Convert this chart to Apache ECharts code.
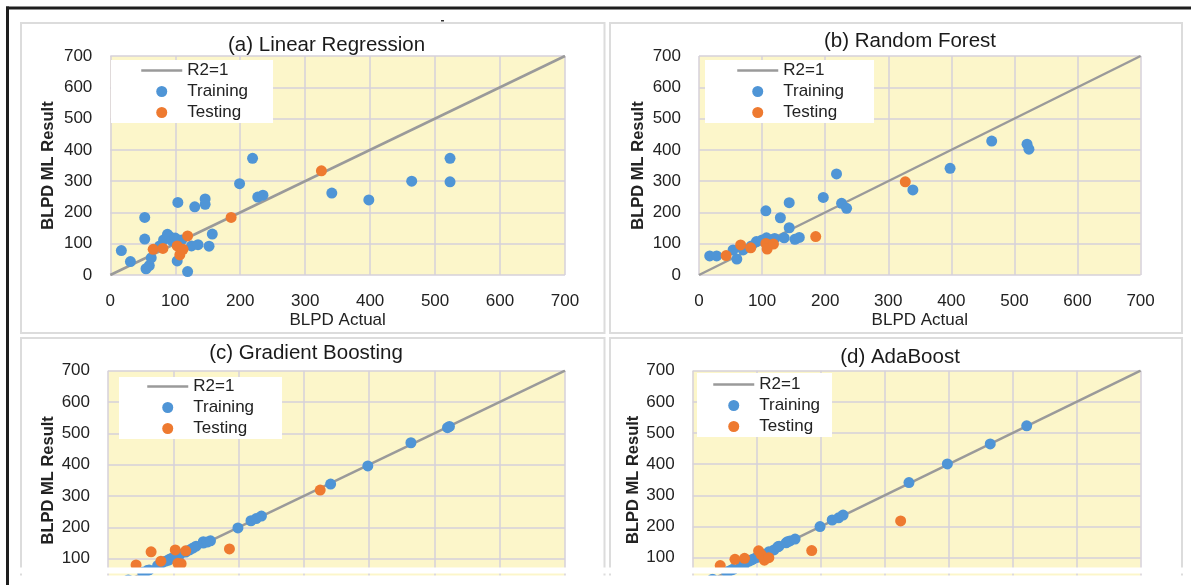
<!DOCTYPE html>
<html>
<head>
<meta charset="utf-8">
<script src="https://cdn.jsdelivr.net/npm/echarts@6/dist/echarts.min.js"></script>
<style>
  html, body { margin: 0; padding: 0; background: #fff; }
  #chart { width: 1191px; height: 585px; }
</style>
</head>
<body>
<div id="chart"></div>
<script>
// values (BLPD actual vs. ML result)
const panelTitles = ['(a) Linear Regression', '(b) Random Forest', '(c) Gradient Boosting', '(d) AdaBoost']
const r2Line = [[0, 0], [700, 700]]

const lrTraining = [[17, 78], [31, 43], [53, 184], [53, 115], [55, 20], [60, 30], [63, 55], [76, 93], [82, 112],
  [88, 130], [92, 122], [95, 110], [100, 118], [103, 45], [104, 232], [110, 112], [119, 11], [125, 93],
  [130, 218], [135, 97], [146, 243], [146, 226], [152, 92], [157, 131], [199, 292], [219, 373], [227, 249],
  [235, 255], [341, 262], [398, 240], [464, 300], [523, 373], [523, 298]]
const lrTesting = [[66, 82], [81, 85], [103, 93], [107, 64], [112, 82], [119, 125], [186, 184], [325, 333]]

const rfTraining = [[17, 61], [28, 61], [54, 80], [60, 51], [70, 80], [83, 93], [91, 107], [100, 112], [107, 119],
  [106, 205], [115, 113], [120, 117], [129, 183], [135, 119], [143, 231], [143, 151], [152, 114], [159, 120],
  [197, 248], [218, 323], [226, 229], [234, 213], [339, 272], [398, 341], [464, 428], [520, 418], [523, 402]]
const rfTesting = [[43, 62], [66, 96], [82, 87], [106, 101], [108, 83], [118, 99], [185, 123], [327, 298]]

const gbTraining = [[17, 19], [31, 32], [53, 57], [55, 52], [60, 62], [63, 64], [76, 78], [82, 86], [88, 92],
  [92, 95], [95, 99], [100, 104], [103, 101], [104, 107], [110, 113], [119, 121], [125, 128], [130, 134],
  [135, 140], [146, 150], [146, 154], [152, 153], [157, 157], [199, 198], [219, 221], [227, 228], [235, 236],
  [341, 338], [398, 396], [464, 470], [520, 518], [523, 522]]
const gbTesting = [[43, 80], [66, 122], [81, 92], [103, 128], [107, 85], [112, 84], [119, 125], [186, 131], [325, 319]]

const abTraining = [[17, 17], [31, 31], [53, 54], [55, 55], [60, 60], [63, 63], [76, 77], [82, 82], [88, 89],
  [92, 93], [95, 96], [100, 101], [103, 103], [104, 105], [110, 111], [119, 119], [127, 125], [133, 135],
  [135, 137], [148, 151], [146, 148], [152, 154], [160, 160], [199, 200], [218, 221], [228, 228], [235, 237],
  [338, 341], [398, 401], [465, 465], [522, 523]]
const abTesting = [[43, 75], [66, 95], [81, 98], [103, 122], [107, 110], [112, 92], [119, 100], [186, 123], [325, 218]]

const AXIS_MIN = 0
const AXIS_MAX = 700
const AXIS_STEP = 100

const BLUE = '#4f95d6'
const ORANGE = '#ee7a30'
const FONT = '"Liberation Sans", Arial, sans-serif'
const TEXT = '#222'

const grids = [
  [110.3, 56, 454.7, 219],
  [699, 56, 441.6, 219],
  [108, 370.7, 457, 219.3],
  [692.7, 370.7, 447.9, 218.2],
]
const nameGaps = [53, 52, 51, 50]
const legendBoxes = [
  // left, top, padding-top, padding-left, padding-right
  [111, 60, 2, 29, 25],
  [705, 60, 2, 31, 30],
  [119, 377, 1, 27, 28],
  [697, 373, 3, 15, 12],
]
const titlePos = [[326.6, 45.7], [910, 41.7], [306, 353], [900, 357]]
const panels = [[21, 23, 583.5, 310], [610, 23, 572, 310], [21, 338, 583.5, 260], [610, 338, 572, 260]]
const seriesData = [[lrTraining, lrTesting], [rfTraining, rfTesting], [gbTraining, gbTesting], [abTraining, abTesting]]

const axisCommon = {
  type: 'value',
  min: AXIS_MIN,
  max: AXIS_MAX,
  interval: AXIS_STEP,
  axisLine: { show: false },
  axisTick: { show: false },
  axisLabel: { color: TEXT, fontSize: 17, fontFamily: FONT, margin: 18 },
  splitLine: { show: true, lineStyle: { color: '#d6d1da', width: 1.5 } },
  nameLocation: 'middle',
  nameTextStyle: { color: TEXT, fontSize: 17, fontFamily: FONT },
}

const option = {
  animation: false,
  backgroundColor: '#fff',
  grid: grids.map(g => ({
    left: g[0], top: g[1], width: g[2], height: g[3],
    show: true, backgroundColor: '#fcf6ca', borderWidth: 0,
    containLabel: false, outerBoundsMode: 'none',
  })),
  xAxis: grids.map((g, i) => ({
    ...axisCommon,
    gridIndex: i,
    name: 'BLPD Actual',
    nameGap: 36.5,
  })),
  yAxis: grids.map((g, i) => ({
    ...axisCommon,
    gridIndex: i,
    name: 'BLPD ML Result',
    nameGap: nameGaps[i],
    nameTextStyle: { color: TEXT, fontSize: 16.5, fontWeight: 'bold', fontFamily: FONT },
  })),
  legend: legendBoxes.map(b => ({
    orient: 'vertical',
    left: b[0],
    top: b[1],
    padding: [b[2], b[4], 2, b[3]],
    backgroundColor: '#fff',
    itemWidth: 41,
    itemHeight: 11,
    itemGap: 4,
    textStyle: { color: TEXT, fontSize: 17, fontFamily: FONT, lineHeight: 17 },
    data: [
      { name: 'R2=1', itemStyle: { opacity: 0, color: 'rgba(0,0,0,0)', borderWidth: 0 },
        lineStyle: { color: '#9a9a9a', width: 2.5 } },
      { name: 'Training', icon: 'circle' },
      { name: 'Testing', icon: 'circle' },
    ],
    selectedMode: false,
  })),
  series: [],
  graphic: [],
}

seriesData.forEach((pair, i) => {
  option.series.push({
    name: 'R2=1', type: 'line', xAxisIndex: i, yAxisIndex: i,
    data: r2Line, symbol: 'none', z: 1,
    lineStyle: { color: '#9a9a9a', width: 2.5 }, itemStyle: { color: '#9a9a9a' },
  })
  option.series.push({
    name: 'Training', type: 'scatter', xAxisIndex: i, yAxisIndex: i,
    data: pair[0], symbolSize: 11, itemStyle: { color: BLUE, opacity: 1 }, z: 2,
  })
  option.series.push({
    name: 'Testing', type: 'scatter', xAxisIndex: i, yAxisIndex: i,
    data: pair[1], symbolSize: 11, itemStyle: { color: ORANGE, opacity: 1 }, z: 3,
  })
})

// panel frames sit under the plots
panels.forEach(p => {
  option.graphic.push({
    type: 'rect', z: -10, silent: true,
    shape: { x: p[0], y: p[1], width: p[2], height: p[3] },
    style: { fill: '#fff', stroke: '#dcdcdc', lineWidth: 2 },
  })
})

titlePos.forEach((t, i) => {
  option.graphic.push({
    type: 'text', x: t[0], y: t[1], z: 10, silent: true,
    style: {
      text: panelTitles[i], fill: '#1a1a1a', font: '20.5px ' + FONT,
      textAlign: 'center', textVerticalAlign: 'middle',
    },
  })
})

// outer frame, stray mark and the blank strip near the bottom edge
option.graphic.push(
  { type: 'rect', z: 20, silent: true, shape: { x: 0, y: 567.5, width: 1191, height: 6 }, style: { fill: '#fff' } },
  { type: 'rect', z: 20, silent: true, shape: { x: 0, y: 575.5, width: 1191, height: 10 }, style: { fill: '#fff' } },
  { type: 'rect', z: 30, silent: true, shape: { x: 6, y: 6.5, width: 1185, height: 3 }, style: { fill: '#1e1e1e' } },
  { type: 'rect', z: 30, silent: true, shape: { x: 6, y: 6.5, width: 3, height: 580 }, style: { fill: '#1e1e1e' } },
  { type: 'rect', z: 30, silent: true, shape: { x: 441, y: 20, width: 3, height: 1.5 }, style: { fill: '#333' } },
)

const chart = echarts.init(document.getElementById('chart'))
chart.setOption(option)
</script>
</body>
</html>
